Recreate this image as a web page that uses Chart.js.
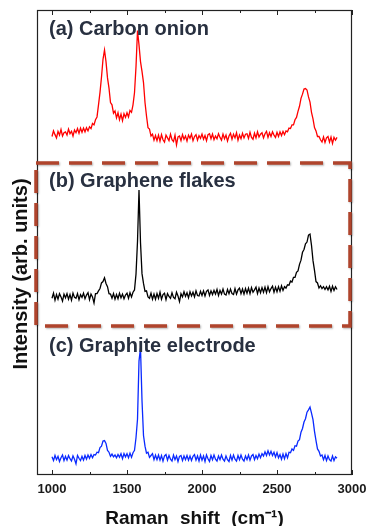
<!DOCTYPE html>
<html>
<head>
<meta charset="utf-8">
<title>Raman spectra</title>
<script src="https://cdn.jsdelivr.net/npm/chart.js@4.4.1/dist/chart.umd.min.js"></script>
<style>
  html, body { margin: 0; padding: 0; background: #fff; }
  #chart { display: block; }
</style>
</head>
<body>
<canvas id="chart" width="367" height="526"></canvas>
<script>
'use strict';

/* ── DATA (intensity in arb. units) ── */
const shifts = [
  1000, 1010, 1020, 1030, 1040, 1050, 1060, 1070, 1080, 1090,
  1100, 1110, 1120, 1130, 1140, 1150, 1160, 1170, 1180, 1190,
  1200, 1210, 1220, 1230, 1240, 1250, 1260, 1270, 1280, 1290,
  1300, 1310, 1320, 1330, 1340, 1350, 1360, 1370, 1380, 1390,
  1400, 1410, 1420, 1430, 1440, 1450, 1460, 1470, 1480, 1490,
  1500, 1510, 1520, 1530, 1540, 1550, 1560, 1570, 1580, 1590,
  1600, 1610, 1620, 1630, 1640, 1650, 1660, 1670, 1680, 1690,
  1700, 1710, 1720, 1730, 1740, 1750, 1760, 1770, 1780, 1790,
  1800, 1810, 1820, 1830, 1840, 1850, 1860, 1870, 1880, 1890,
  1900, 1910, 1920, 1930, 1940, 1950, 1960, 1970, 1980, 1990,
  2000, 2010, 2020, 2030, 2040, 2050, 2060, 2070, 2080, 2090,
  2100, 2110, 2120, 2130, 2140, 2150, 2160, 2170, 2180, 2190,
  2200, 2210, 2220, 2230, 2240, 2250, 2260, 2270, 2280, 2290,
  2300, 2310, 2320, 2330, 2340, 2350, 2360, 2370, 2380, 2390,
  2400, 2410, 2420, 2430, 2440, 2450, 2460, 2470, 2480, 2490,
  2500, 2510, 2520, 2530, 2540, 2550, 2560, 2570, 2580, 2590,
  2600, 2610, 2620, 2630, 2640, 2650, 2660, 2670, 2680, 2690,
  2700, 2710, 2720, 2730, 2740, 2750, 2760, 2770, 2780, 2790,
  2800, 2810, 2820, 2830, 2840, 2850, 2860, 2870, 2880, 2890,
  2900
];

const carbonOnion = [
  2.8, 4.0, 3.2, 2.5, 3.9, 3.1, 4.3, 2.9, 3.6, 3.8,
  3.1, 4.4, 3.4, 3.9, 2.9, 4.2, 3.6, 4.5, 3.5, 4.6,
  3.7, 4.6, 3.8, 4.7, 4.0, 4.9, 4.5, 5.6, 5.3, 6.4,
  7.0, 9.6, 12.3, 15.6, 19.4, 21.4, 18.9, 15.4, 13.2, 10.1,
  9.6, 7.8, 8.3, 6.8, 7.9, 6.4, 7.6, 6.2, 7.7, 6.9,
  7.9, 7.0, 8.4, 8.0, 9.6, 12.2, 17.8, 25.6, 22.5, 18.9,
  16.8, 14.4, 10.1, 7.2, 4.7, 4.4, 2.9, 3.3, 2.0, 3.0,
  1.9, 3.1, 1.8, 3.2, 2.1, 1.6, 3.1, 2.5, 1.9, 3.3,
  2.1, 1.7, 3.1, 1.0, 2.7, 2.9, 1.9, 3.2, 2.2, 2.9,
  1.8, 3.1, 2.4, 3.3, 1.9, 2.8, 3.2, 2.0, 3.0, 2.4,
  3.3, 2.2, 3.0, 1.9, 3.2, 3.4, 2.3, 3.3, 2.1, 2.9,
  2.3, 3.4, 2.6, 2.0, 3.3, 2.3, 3.1, 1.8, 2.9, 3.5,
  2.2, 3.3, 2.5, 3.6, 2.0, 3.1, 2.3, 3.5, 2.5, 3.3,
  3.4, 2.4, 3.7, 2.6, 2.2, 3.5, 2.5, 3.8, 2.7, 3.3,
  3.6, 2.5, 3.4, 3.9, 2.6, 3.6, 2.8, 3.8, 3.1, 2.6,
  3.7, 2.8, 3.8, 3.0, 3.9, 3.2, 4.0, 3.8, 4.6, 4.5,
  5.3, 5.3, 6.4, 6.9, 8.2, 9.3, 11.0, 11.9, 13.0, 13.1,
  12.8, 11.3, 10.2, 8.0, 6.6, 4.7, 4.0, 2.8, 2.8, 2.1,
  1.6, 2.7, 1.5, 2.5, 2.8, 1.6, 2.7, 1.3, 2.6, 2.0,
  2.6
];

const grapheneFlakes = [
  3.0, 4.1, 2.6, 3.8, 2.8, 4.0, 3.3, 2.4, 3.9, 3.1,
  4.0, 2.8, 3.8, 2.6, 4.1, 3.2, 3.0, 4.0, 2.7, 3.8,
  3.2, 4.1, 2.9, 3.7, 4.2, 2.7, 3.9, 3.3, 2.0, 4.0,
  4.0, 4.6, 5.1, 6.3, 6.6, 7.4, 6.2, 5.5, 4.0, 3.9,
  3.0, 4.0, 2.8, 3.8, 2.9, 4.1, 3.1, 3.9, 2.9, 3.7,
  4.1, 3.0, 4.2, 3.3, 4.3, 4.8, 8.2, 15.2, 26.3, 15.0,
  8.3, 6.2, 4.5, 4.6, 3.3, 3.0, 4.1, 2.8, 3.9, 2.8,
  4.0, 3.0, 4.3, 2.8, 3.8, 4.1, 2.7, 4.0, 3.4, 3.0,
  4.2, 3.2, 2.9, 4.3, 3.5, 2.3, 4.0, 3.3, 4.4, 3.4,
  4.2, 3.1, 4.4, 3.5, 4.3, 3.3, 4.6, 3.6, 3.5, 4.5,
  3.6, 4.6, 3.5, 4.5, 4.8, 3.6, 4.6, 3.8, 4.7, 3.9,
  4.9, 3.6, 4.7, 3.9, 5.0, 3.9, 3.7, 4.9, 4.0, 5.0,
  4.0, 3.8, 5.1, 3.9, 4.8, 5.2, 4.0, 5.0, 3.9, 5.1,
  4.1, 5.2, 4.0, 5.3, 4.3, 4.8, 5.4, 4.0, 5.2, 4.2,
  5.3, 4.3, 5.4, 4.2, 5.5, 4.4, 5.1, 5.6, 4.3, 5.4,
  4.4, 5.5, 4.5, 5.7, 4.7, 5.5, 5.2, 5.9, 5.8, 6.7,
  6.5, 7.5, 7.5, 8.6, 8.9, 10.3, 11.2, 12.9, 13.5, 14.7,
  15.1, 16.6, 16.8, 14.4, 11.1, 9.0, 6.6, 6.3, 5.2, 5.7,
  5.1, 5.5, 4.9, 5.5, 4.8, 5.6, 4.5, 5.6, 4.7, 5.5,
  4.9
];

const graphiteElectrode = [
  3.9, 3.1, 4.2, 3.3, 4.0, 2.9, 3.7, 4.3, 3.1, 4.0,
  3.2, 4.2, 3.5, 3.0, 4.1, 3.4, 2.4, 4.2, 3.6, 3.1,
  4.0, 3.2, 4.2, 3.4, 4.3, 3.6, 4.4, 3.7, 4.4, 4.3,
  4.9, 4.8, 5.9, 6.2, 7.3, 7.4, 6.8, 5.3, 4.9, 4.0,
  4.5, 3.9, 4.3, 3.7, 4.4, 3.8, 4.6, 3.5, 4.6, 3.9,
  4.6, 3.7, 4.7, 3.8, 4.8, 5.3, 8.0, 12.0, 24.5, 27.3,
  16.0, 8.5, 6.2, 4.7, 4.9, 3.8, 4.2, 4.6, 3.3, 4.3,
  3.3, 4.3, 3.2, 4.2, 3.0, 4.1, 4.4, 3.2, 4.2, 3.4,
  3.0, 4.3, 3.3, 4.1, 2.9, 4.0, 4.2, 3.1, 4.1, 3.3,
  4.2, 3.2, 4.1, 3.1, 4.0, 4.4, 3.2, 4.1, 3.0, 4.3,
  3.2, 4.1, 2.9, 4.3, 3.5, 2.9, 4.2, 3.3, 4.3, 3.4,
  3.0, 4.1, 3.3, 4.3, 3.4, 3.0, 4.1, 3.3, 2.9, 4.2,
  3.2, 4.3, 3.4, 3.0, 4.2, 3.3, 4.3, 3.4, 3.0, 4.1,
  3.3, 4.3, 3.2, 4.1, 4.4, 3.3, 4.2, 3.5, 4.5, 3.7,
  4.6, 4.1, 5.0, 4.2, 5.2, 4.3, 5.1, 4.2, 4.9, 3.9,
  4.8, 3.7, 4.4, 3.4, 4.5, 3.5, 4.6, 3.7, 4.9, 4.8,
  5.6, 5.3, 6.3, 6.2, 7.3, 7.6, 9.2, 10.0, 11.4, 12.1,
  13.5, 14.0, 14.6, 13.3, 11.9, 9.4, 7.4, 5.6, 5.1, 4.1,
  4.3, 3.3, 4.2, 3.1, 4.1, 3.3, 3.0, 4.1, 3.1, 3.9,
  3.6
];

const seriesNames   = ['(a) Carbon onion', '(b) Graphene flakes', '(c) Graphite electrode'];
const seriesOffsets = [70, 35, 0];   // vertical stacking of the spectra
const majorTicks    = [1000, 1500, 2000, 2500, 3000];
const minorTicks    = [1250, 1750, 2250, 2750];

/* ── STYLE ── */
const FONT = '"Liberation Sans", Arial, sans-serif';
const lineColors = ['#ff0000', '#000000', '#0a2aff'];

function toPoints(values, offset) {
  return shifts.map((s, i) => ({ x: s, y: offset + values[i] }));
}

/* ── FRAME, TICKS, HIGHLIGHT BOX, TEXTS ── */
const decorations = {
  id: 'decorations',
  afterDatasetsDraw(chart) {
    const { ctx, chartArea: a, scales: { x } } = chart;
    ctx.save();

    // plot frame
    ctx.strokeStyle = '#222';
    ctx.lineWidth = 1.2;
    ctx.strokeRect(a.left + 0.5, a.top + 0.5, a.right - a.left - 1, a.bottom - a.top - 1);

    // inward ticks, top and bottom
    const drawTick = (v, len) => {
      const px = Math.round(x.getPixelForValue(v)) + 0.5;
      ctx.beginPath();
      ctx.moveTo(px, a.top); ctx.lineTo(px, a.top + len);
      ctx.moveTo(px, a.bottom); ctx.lineTo(px, a.bottom - len);
      ctx.stroke();
    };
    ctx.lineWidth = 1;
    majorTicks.forEach(v => drawTick(v, 5));
    minorTicks.forEach(v => drawTick(v, 3));

    // dashed box around (b)
    ctx.setLineDash([23, 10]);
    ctx.strokeStyle = '#b0442c';
    ctx.lineWidth = 3.5;
    ctx.shadowColor = 'rgba(0,0,0,0.3)';
    ctx.shadowBlur = 2;
    ctx.shadowOffsetX = 1;
    ctx.shadowOffsetY = 1;
    ctx.strokeRect(36, 163, 314, 163);
    ctx.restore();
  },
  afterDraw(chart) {
    const { ctx, chartArea: a } = chart;
    ctx.save();

    // panel labels
    ctx.font = 'bold 20px ' + FONT;
    ctx.fillStyle = '#283040';
    ctx.textAlign = 'left';
    ctx.textBaseline = 'alphabetic';
    const baselines = [35, 187, 352];
    seriesNames.forEach((name, i) => ctx.fillText(name, 49, baselines[i]));

    // x axis title
    ctx.fillStyle = '#111';
    ctx.font = 'bold 19px ' + FONT;
    ctx.textAlign = 'center';
    if ('wordSpacing' in ctx) ctx.wordSpacing = '6px';
    ctx.fillText('Raman shift (cm\u207B\u00B9)', (a.left + a.right) / 2, 524);
    if ('wordSpacing' in ctx) ctx.wordSpacing = '0px';

    // y axis title
    ctx.font = 'bold 20px ' + FONT;
    ctx.translate(27, 274);
    ctx.rotate(-Math.PI / 2);
    ctx.fillText('Intensity (arb. units)', 0, 0);
    ctx.restore();
  }
};

/* ── CHART ── */
const seriesValues = [carbonOnion, grapheneFlakes, graphiteElectrode];

new Chart(document.getElementById('chart'), {
  type: 'line',
  data: {
    datasets: seriesValues.map((vals, i) => ({
      label: seriesNames[i],
      data: toPoints(vals, seriesOffsets[i]),
      borderColor: lineColors[i],
      borderWidth: 1.3,
      pointRadius: 0,
      tension: 0,
      fill: false
    }))
  },
  options: {
    responsive: false,
    animation: false,
    devicePixelRatio: 1,
    layout: { padding: { left: 37, right: 15, top: 10, bottom: 0 } },
    plugins: {
      legend: { display: false },
      tooltip: { enabled: false }
    },
    scales: {
      x: {
        type: 'linear',
        min: 900,
        max: 3000,
        afterBuildTicks: scale => { scale.ticks = majorTicks.map(v => ({ value: v })); },
        afterFit: scale => {
          scale.height = 51;
          scale.paddingLeft = 0;
          scale.paddingRight = 0;
        },
        grid: { display: false, drawTicks: false },
        border: { display: false },
        ticks: {
          padding: 7,
          maxRotation: 0,
          color: '#1a1a1a',
          font: { family: FONT, size: 13, weight: 'bold' },
          callback: v => String(v)
        }
      },
      y: {
        display: false,
        min: 0,
        max: 100
      }
    }
  },
  plugins: [decorations]
});
</script>
</body>
</html>
